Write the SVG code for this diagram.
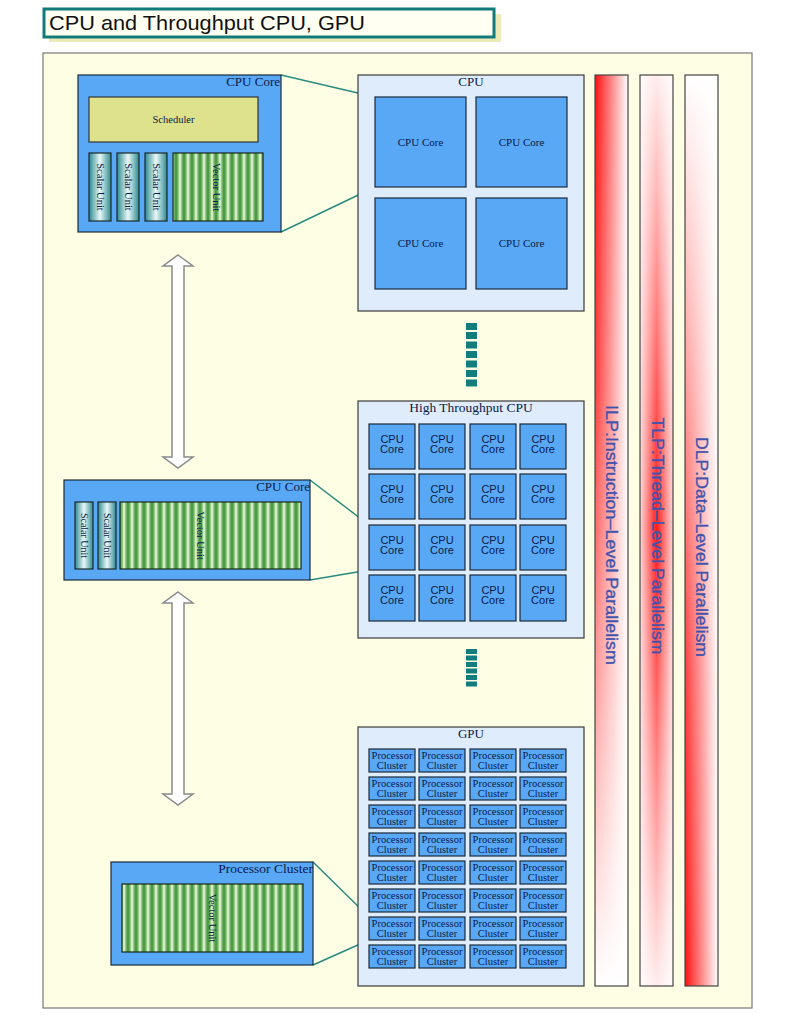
<svg xmlns="http://www.w3.org/2000/svg" width="797" height="1024" viewBox="0 0 797 1024">
<defs>
<style>
.blk{fill:#58a8f6;stroke:#1c2a3a;stroke-width:1.2}
.cont{fill:#dfecfb;stroke:#3a3a3a;stroke-width:1.2}
.ser{font-family:"Liberation Serif",serif;fill:#0c1a48}
.san{font-family:"Liberation Sans",sans-serif;fill:#0c1a48}
.vu{fill:url(#stripes);stroke:#1a2a1a;stroke-width:1.2}
.su{fill:url(#scalar);stroke:#1a2a2a;stroke-width:1.2}
.con{stroke:#2a8a80;stroke-width:1.5;fill:none}
.arr{fill:#ffffff;stroke:#8a8a8a;stroke-width:1.5}
.bar{stroke:#444;stroke-width:1.2}
.bt{font-family:"Liberation Sans",sans-serif;font-size:17px;fill:#4054ac;stroke:#4054ac;stroke-width:0.35}
.dot{fill:#137d7d}
</style>
<linearGradient id="stripeG" x1="0" y1="0" x2="1" y2="0">
<stop offset="0" stop-color="#3b8c3b"/><stop offset="0.3" stop-color="#8fc97c"/><stop offset="0.5" stop-color="#f2fbe8"/><stop offset="0.7" stop-color="#8fc97c"/><stop offset="1" stop-color="#3b8c3b"/>
</linearGradient>
<pattern id="stripes" patternUnits="userSpaceOnUse" width="8" height="10">
<rect width="8" height="10" fill="url(#stripeG)"/>
</pattern>
<linearGradient id="scalar" x1="0" y1="0" x2="1" y2="0">
<stop offset="0" stop-color="#2d8a90"/><stop offset="0.5" stop-color="#eaf8f8"/><stop offset="1" stop-color="#2d8a90"/>
</linearGradient>
<linearGradient id="redLR" x1="0" y1="0" x2="1" y2="0">
<stop offset="0" stop-color="#ff1010"/><stop offset="1" stop-color="#ffffff"/>
</linearGradient>
<linearGradient id="redC" x1="0" y1="0" x2="1" y2="0">
<stop offset="0" stop-color="#ffd6d6"/><stop offset="0.5" stop-color="#ff1a1a"/><stop offset="1" stop-color="#ffd6d6"/>
</linearGradient>
<linearGradient id="fadeILP" x1="0" y1="0" x2="0" y2="1">
<stop offset="0" stop-color="#fff" stop-opacity="0"/><stop offset="0.35" stop-color="#fff" stop-opacity="0.2"/><stop offset="1" stop-color="#fff" stop-opacity="1"/>
</linearGradient>
<linearGradient id="fadeTLP" x1="0" y1="0" x2="0" y2="1">
<stop offset="0" stop-color="#fff" stop-opacity="0.92"/><stop offset="0.5" stop-color="#fff" stop-opacity="0"/><stop offset="1" stop-color="#fff" stop-opacity="0.92"/>
</linearGradient>
<linearGradient id="fadeDLP" x1="0" y1="0" x2="0" y2="1">
<stop offset="0" stop-color="#fff" stop-opacity="1"/><stop offset="0.65" stop-color="#fff" stop-opacity="0.2"/><stop offset="1" stop-color="#fff" stop-opacity="0"/>
</linearGradient>
</defs>
<rect width="797" height="1024" fill="#ffffff"/>

<g id="title">
<rect x="49" y="14" width="452" height="28" fill="#ecebb8"/>
<rect x="44" y="9" width="450" height="28" fill="#fffff2" stroke="#137a7a" stroke-width="3"/>
<text x="49" y="30" font-family="'Liberation Sans',sans-serif" font-size="21" fill="#111" textLength="316" lengthAdjust="spacingAndGlyphs">CPU and Throughput CPU, GPU</text>
</g>

<g id="panel">
<rect x="43" y="53" width="709" height="955" fill="#fefee4" stroke="#777" stroke-width="1.2"/>
</g>

<g id="bars">
<g id="ilp">
<rect x="595" y="75" width="33" height="911" fill="url(#redLR)"/>
<rect x="595" y="75" width="33" height="911" fill="url(#fadeILP)" class="bar"/>
<text class="bt" transform="translate(611,535) rotate(90)" text-anchor="middle" dominant-baseline="central" textLength="260" lengthAdjust="spacingAndGlyphs">ILP:Instruction–Level Parallelism</text>
</g>
<g id="tlp">
<rect x="640" y="75" width="33" height="911" fill="url(#redC)"/>
<rect x="640" y="75" width="33" height="911" fill="url(#fadeTLP)" class="bar"/>
<text class="bt" transform="translate(657,536) rotate(90)" text-anchor="middle" dominant-baseline="central" textLength="237" lengthAdjust="spacingAndGlyphs">TLP:Thread–Level Parallelism</text>
</g>
<g id="dlp">
<rect x="685" y="75" width="33" height="911" fill="url(#redLR)"/>
<rect x="685" y="75" width="33" height="911" fill="url(#fadeDLP)" class="bar"/>
<text class="bt" transform="translate(701,547) rotate(90)" text-anchor="middle" dominant-baseline="central" textLength="220" lengthAdjust="spacingAndGlyphs">DLP:Data–Level Parallelism</text>
</g>
</g>

<g id="connectors">
<line class="con" x1="281" y1="75" x2="375" y2="97"/>
<line class="con" x1="281" y1="232" x2="375" y2="187"/>
<line class="con" x1="310" y1="480" x2="369" y2="525"/>
<line class="con" x1="310" y1="580" x2="369" y2="570"/>
<line class="con" x1="313" y1="862" x2="369" y2="917"/>
<line class="con" x1="313" y1="965" x2="369" y2="940"/>
<path class="arr" d="M178,255 L193,266 L184,266 L184,457 L193,457 L178,468 L163,457 L172,457 L172,266 L163,266 Z"/>
<path class="arr" d="M178,592 L193,603 L184,603 L184,794 L193,794 L178,805 L163,794 L172,794 L172,603 L163,603 Z"/>
<g id="dots1">
<rect class="dot" x="466" y="323" width="11" height="7"/>
<rect class="dot" x="466" y="332" width="11" height="7"/>
<rect class="dot" x="466" y="341.5" width="11" height="7"/>
<rect class="dot" x="466" y="351" width="11" height="7"/>
<rect class="dot" x="466" y="360.5" width="11" height="7"/>
<rect class="dot" x="466" y="370" width="11" height="7"/>
<rect class="dot" x="466" y="379.5" width="11" height="7"/>
</g>
<g id="dots2">
<rect class="dot" x="466" y="649" width="11" height="5"/>
<rect class="dot" x="466" y="655.5" width="11" height="5"/>
<rect class="dot" x="466" y="662" width="11" height="5"/>
<rect class="dot" x="466" y="668.5" width="11" height="5"/>
<rect class="dot" x="466" y="675" width="11" height="5"/>
<rect class="dot" x="466" y="681.5" width="11" height="5"/>
</g>
</g>

<g id="cpucore-detail">
<rect class="blk" x="78" y="75" width="203" height="157"/>
<text class="ser" x="280" y="86" font-size="13" text-anchor="end">CPU Core</text>
<rect x="89" y="97" width="169" height="45" fill="#dfe28c" stroke="#333" stroke-width="1.2"/>
<text class="ser" x="173.5" y="123" font-size="10.5" text-anchor="middle">Scheduler</text>
<rect class="su" x="89" y="153" width="22" height="68"/>
<rect class="su" x="117" y="153" width="22" height="68"/>
<rect class="su" x="145" y="153" width="22" height="68"/>
<rect class="vu" x="173" y="153" width="90" height="68"/>
<text class="ser" transform="translate(100,187) rotate(90)" font-size="10.5" text-anchor="middle" dominant-baseline="central">Scalar Unit</text>
<text class="ser" transform="translate(128,187) rotate(90)" font-size="10.5" text-anchor="middle" dominant-baseline="central">Scalar Unit</text>
<text class="ser" transform="translate(156,187) rotate(90)" font-size="10.5" text-anchor="middle" dominant-baseline="central">Scalar Unit</text>
<text class="ser" transform="translate(216,187) rotate(90)" font-size="10.5" text-anchor="middle" dominant-baseline="central">Vector Unit</text>
</g>

<g id="cpu">
<rect class="cont" x="358" y="75" width="226" height="236"/>
<text class="ser" x="471" y="86" font-size="13" text-anchor="middle">CPU</text>
<rect class="blk" x="375" y="97" width="91" height="90"/>
<rect class="blk" x="476" y="97" width="91" height="90"/>
<rect class="blk" x="375" y="198" width="91" height="91"/>
<rect class="blk" x="476" y="198" width="91" height="91"/>
<text class="ser" x="420.5" y="146" font-size="11" text-anchor="middle">CPU Core</text>
<text class="ser" x="521.5" y="146" font-size="11" text-anchor="middle">CPU Core</text>
<text class="ser" x="420.5" y="247" font-size="11" text-anchor="middle">CPU Core</text>
<text class="ser" x="521.5" y="247" font-size="11" text-anchor="middle">CPU Core</text>
</g>

<g id="cpucore-mid">
<rect class="blk" x="64" y="480" width="246" height="100"/>
<text class="ser" x="310" y="491" font-size="13" text-anchor="end">CPU Core</text>
<rect class="su" x="75" y="502" width="18" height="67"/>
<rect class="su" x="98" y="502" width="18" height="67"/>
<rect class="vu" x="120" y="502" width="181" height="67"/>
<text class="ser" transform="translate(84,535.5) rotate(90)" font-size="10" text-anchor="middle" dominant-baseline="central">Scalar Unit</text>
<text class="ser" transform="translate(107,535.5) rotate(90)" font-size="10" text-anchor="middle" dominant-baseline="central">Scalar Unit</text>
<text class="ser" transform="translate(200,535.5) rotate(90)" font-size="10.5" text-anchor="middle" dominant-baseline="central">Vector Unit</text>
</g>

<g id="htcpu">
<rect class="cont" x="358" y="401" width="226" height="237"/>
<text class="ser" x="471" y="412" font-size="13.5" text-anchor="middle">High Throughput CPU</text>
<g id="htcores" class="htc">
<rect class="blk" x="369" y="424" width="46" height="45"/><rect class="blk" x="419" y="424" width="46" height="45"/><rect class="blk" x="470" y="424" width="46" height="45"/><rect class="blk" x="520" y="424" width="46" height="45"/>
<rect class="blk" x="369" y="474" width="46" height="45"/><rect class="blk" x="419" y="474" width="46" height="45"/><rect class="blk" x="470" y="474" width="46" height="45"/><rect class="blk" x="520" y="474" width="46" height="45"/>
<rect class="blk" x="369" y="525" width="46" height="45"/><rect class="blk" x="419" y="525" width="46" height="45"/><rect class="blk" x="470" y="525" width="46" height="45"/><rect class="blk" x="520" y="525" width="46" height="45"/>
<rect class="blk" x="369" y="575" width="46" height="46"/><rect class="blk" x="419" y="575" width="46" height="46"/><rect class="blk" x="470" y="575" width="46" height="46"/><rect class="blk" x="520" y="575" width="46" height="46"/>
<g class="san" font-size="11" text-anchor="middle">
<text x="392" y="443">CPU</text><text x="392" y="453">Core</text>
<text x="442" y="443">CPU</text><text x="442" y="453">Core</text>
<text x="493" y="443">CPU</text><text x="493" y="453">Core</text>
<text x="543" y="443">CPU</text><text x="543" y="453">Core</text>
<text x="392" y="493">CPU</text><text x="392" y="503">Core</text>
<text x="442" y="493">CPU</text><text x="442" y="503">Core</text>
<text x="493" y="493">CPU</text><text x="493" y="503">Core</text>
<text x="543" y="493">CPU</text><text x="543" y="503">Core</text>
<text x="392" y="544">CPU</text><text x="392" y="554">Core</text>
<text x="442" y="544">CPU</text><text x="442" y="554">Core</text>
<text x="493" y="544">CPU</text><text x="493" y="554">Core</text>
<text x="543" y="544">CPU</text><text x="543" y="554">Core</text>
<text x="392" y="594">CPU</text><text x="392" y="604">Core</text>
<text x="442" y="594">CPU</text><text x="442" y="604">Core</text>
<text x="493" y="594">CPU</text><text x="493" y="604">Core</text>
<text x="543" y="594">CPU</text><text x="543" y="604">Core</text>
</g>
</g>
</g>

<g id="gpu">
<rect class="cont" x="358" y="727" width="226" height="259"/>
<text class="ser" x="471" y="738" font-size="13" text-anchor="middle">GPU</text>
<g id="clusters">
<rect class="blk" x="369" y="749" width="46" height="23"/><rect class="blk" x="419" y="749" width="46" height="23"/><rect class="blk" x="470" y="749" width="46" height="23"/><rect class="blk" x="520" y="749" width="46" height="23"/>
<rect class="blk" x="369" y="777" width="46" height="23"/><rect class="blk" x="419" y="777" width="46" height="23"/><rect class="blk" x="470" y="777" width="46" height="23"/><rect class="blk" x="520" y="777" width="46" height="23"/>
<rect class="blk" x="369" y="805" width="46" height="23"/><rect class="blk" x="419" y="805" width="46" height="23"/><rect class="blk" x="470" y="805" width="46" height="23"/><rect class="blk" x="520" y="805" width="46" height="23"/>
<rect class="blk" x="369" y="833" width="46" height="23"/><rect class="blk" x="419" y="833" width="46" height="23"/><rect class="blk" x="470" y="833" width="46" height="23"/><rect class="blk" x="520" y="833" width="46" height="23"/>
<rect class="blk" x="369" y="861" width="46" height="23"/><rect class="blk" x="419" y="861" width="46" height="23"/><rect class="blk" x="470" y="861" width="46" height="23"/><rect class="blk" x="520" y="861" width="46" height="23"/>
<rect class="blk" x="369" y="889" width="46" height="23"/><rect class="blk" x="419" y="889" width="46" height="23"/><rect class="blk" x="470" y="889" width="46" height="23"/><rect class="blk" x="520" y="889" width="46" height="23"/>
<rect class="blk" x="369" y="917" width="46" height="23"/><rect class="blk" x="419" y="917" width="46" height="23"/><rect class="blk" x="470" y="917" width="46" height="23"/><rect class="blk" x="520" y="917" width="46" height="23"/>
<rect class="blk" x="369" y="945" width="46" height="23"/><rect class="blk" x="419" y="945" width="46" height="23"/><rect class="blk" x="470" y="945" width="46" height="23"/><rect class="blk" x="520" y="945" width="46" height="23"/>
<g class="ser" font-size="10.5" text-anchor="middle">
<text x="392" y="759">Processor</text><text x="392" y="769">Cluster</text><text x="442" y="759">Processor</text><text x="442" y="769">Cluster</text><text x="493" y="759">Processor</text><text x="493" y="769">Cluster</text><text x="543" y="759">Processor</text><text x="543" y="769">Cluster</text>
<text x="392" y="787">Processor</text><text x="392" y="797">Cluster</text><text x="442" y="787">Processor</text><text x="442" y="797">Cluster</text><text x="493" y="787">Processor</text><text x="493" y="797">Cluster</text><text x="543" y="787">Processor</text><text x="543" y="797">Cluster</text>
<text x="392" y="815">Processor</text><text x="392" y="825">Cluster</text><text x="442" y="815">Processor</text><text x="442" y="825">Cluster</text><text x="493" y="815">Processor</text><text x="493" y="825">Cluster</text><text x="543" y="815">Processor</text><text x="543" y="825">Cluster</text>
<text x="392" y="843">Processor</text><text x="392" y="853">Cluster</text><text x="442" y="843">Processor</text><text x="442" y="853">Cluster</text><text x="493" y="843">Processor</text><text x="493" y="853">Cluster</text><text x="543" y="843">Processor</text><text x="543" y="853">Cluster</text>
<text x="392" y="871">Processor</text><text x="392" y="881">Cluster</text><text x="442" y="871">Processor</text><text x="442" y="881">Cluster</text><text x="493" y="871">Processor</text><text x="493" y="881">Cluster</text><text x="543" y="871">Processor</text><text x="543" y="881">Cluster</text>
<text x="392" y="899">Processor</text><text x="392" y="909">Cluster</text><text x="442" y="899">Processor</text><text x="442" y="909">Cluster</text><text x="493" y="899">Processor</text><text x="493" y="909">Cluster</text><text x="543" y="899">Processor</text><text x="543" y="909">Cluster</text>
<text x="392" y="927">Processor</text><text x="392" y="937">Cluster</text><text x="442" y="927">Processor</text><text x="442" y="937">Cluster</text><text x="493" y="927">Processor</text><text x="493" y="937">Cluster</text><text x="543" y="927">Processor</text><text x="543" y="937">Cluster</text>
<text x="392" y="955">Processor</text><text x="392" y="965">Cluster</text><text x="442" y="955">Processor</text><text x="442" y="965">Cluster</text><text x="493" y="955">Processor</text><text x="493" y="965">Cluster</text><text x="543" y="955">Processor</text><text x="543" y="965">Cluster</text>
</g>
</g>
</g>

<g id="cluster-detail">
<rect class="blk" x="111" y="862" width="202" height="103"/>
<text class="ser" x="313" y="873" font-size="13.5" text-anchor="end">Processor Cluster</text>
<rect class="vu" x="122" y="884" width="181" height="68"/>
<text class="ser" transform="translate(212,918) rotate(90)" font-size="10.5" text-anchor="middle" dominant-baseline="central">Vector Unit</text>
</g>
</svg>
